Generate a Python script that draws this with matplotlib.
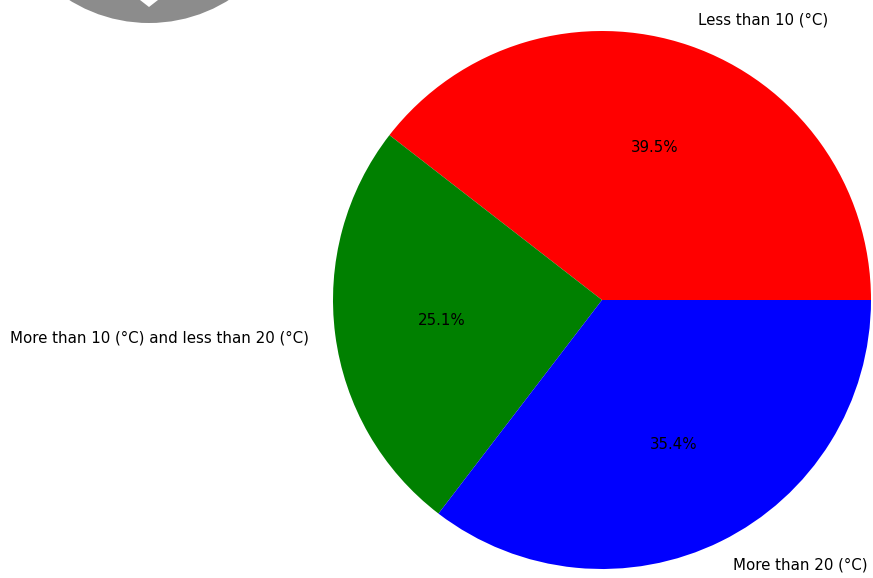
import matplotlib
matplotlib.use('Agg')
from matplotlib import pyplot as plt
from matplotlib.patches import Circle, Polygon

labels = ['Less than 10 (°C)', 'More than 10 (°C) and less than 20 (°C)', 'More than 20 (°C)']
shares = [39.5, 25.1, 35.4]
colors = ['red', 'green', 'blue']

W, H = 873, 578
fig = plt.figure(figsize=(W / 100, H / 100), dpi=100)

# pie centre (602, 300) px, radius 269 px, default limits are +-1.25
span = 269 * 1.25
ax = fig.add_axes([(602 - span) / W, 1 - (300 + span) / H, 2 * span / W, 2 * span / H])
ax.pie(shares, labels=labels, colors=colors, autopct='%1.1f%%',
       textprops={'fontsize': 10.85})
ax.set_xlim(-1.25, 1.25)
ax.set_ylim(-1.25, 1.25)

# grey round button cut off at the top of the screenshot
over = fig.add_axes([0, 0, 1, 1])
over.set_xlim(0, W)
over.set_ylim(H, 0)
over.axis('off')
over.add_patch(Circle((149, -127), 150, color='#8c8c8c', lw=0))
over.add_patch(Polygon([(140, 0), (158, 0), (149, 7)], color='white', lw=0))

fig.savefig('out.png', dpi=100)
